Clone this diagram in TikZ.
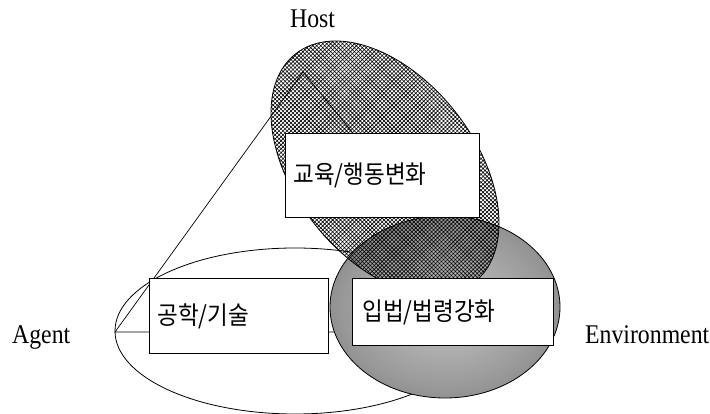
\documentclass[tikz,border=0pt]{standalone}
\usepackage{fontspec}
\newfontfamily\lblfont{Liberation Serif}[FakeStretch=0.88]
\newfontfamily\krfont{Noto Sans CJK KR}[FakeStretch=0.9]
\usetikzlibrary{shapes.geometric,patterns.meta}
\pgfdeclareradialshading{envshade}{\pgfpoint{0bp}{0bp}}{color(0bp)=(black!22); color(22bp)=(black!40); color(50bp)=(black!68)}
\begin{document}
\begin{tikzpicture}[x=1pt, y=-1pt,
  area/.style={ellipse, draw=black, line width=0.8pt, inner sep=0pt},
  box/.style={draw=black, fill=white, line width=0.9pt, anchor=north west, inner xsep=8pt, inner ysep=0pt, align=left, font=\krfont\fontsize{25}{25}\selectfont},
  lbl/.style={anchor=base west, inner sep=0pt, font=\lblfont\fontsize{27}{27}\selectfont}]
\useasboundingbox (0,0) rectangle (710,414);
% agent ellipse and triangle
\node[area, minimum width=360pt, minimum height=166pt] (agent) at (295,331) {};
\coordinate (agentpt) at (115,332);
\coordinate (hostpt) at (303,72);
\coordinate (envpt) at (516,332);
\draw[line width=0.7pt] (agentpt) -- (hostpt) -- (envpt) -- cycle;
% environment and host
\node[area, shading=envshade, minimum width=230pt, minimum height=182pt] (env) at (445,307) {};
\node[area, rotate=-52, pattern={Hatch[angle=45, distance=2.8pt, line width=0.6pt]}, minimum width=290pt, minimum height=180pt] (host) at (385,168) {};
% boxes
\node[box, minimum width=194pt, minimum height=84pt, text width=178pt] (edu) at (285,133) {교육/행동변화};
\node[box, minimum width=179pt, minimum height=75pt, text width=163pt, inner xsep=6pt] (eng) at (149,278) {공학/기술};
\node[box, minimum width=201pt, minimum height=67pt, text width=181pt, inner xsep=10pt] (law) at (352,278) {입법/법령강화};
% labels
\node[lbl] (hostlbl) at (290,28) {Host};
\node[lbl] (agentlbl) at (12,343) {Agent};
\node[lbl] (envlbl) at (585,343) {Environment};
\end{tikzpicture}
\end{document}
